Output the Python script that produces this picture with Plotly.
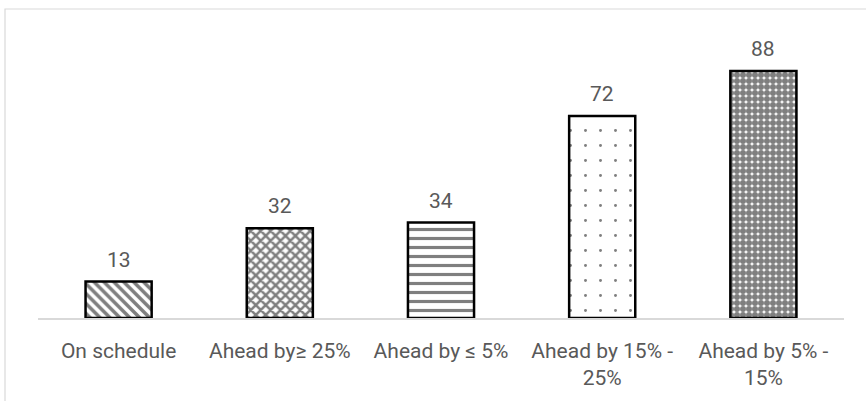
import plotly.graph_objects as go

categories = ["On schedule", "Ahead by≥ 25%", "Ahead by ≤ 5%", "Ahead by 15% -<br>25%", "Ahead by 5% -<br>15%"]
values = [13, 32, 34, 72, 88]
patterns = ["\\", "x", "-", ".", "."]
pattern_sizes = [7, 7, 9, 15, 6]
pattern_solidity = [0.5, 0.6, 0.35, 0.03, 0.78]

FONT = "Roboto, Liberation Sans, sans-serif"
TEXT_COLOR = "#595959"
FONT_SIZE = 21

fig = go.Figure(
    go.Bar(
        x=categories,
        y=values,
        width=0.41,
        marker=dict(
            color="white",
            line=dict(color="black", width=2.5),
            pattern=dict(
                shape=patterns,
                size=pattern_sizes,
                solidity=pattern_solidity,
                fgcolor="black",
                bgcolor="white",
                fillmode="overlay",
            ),
        ),
    )
)

# value labels sitting above each bar
for cat, v in zip(categories, values):
    fig.add_annotation(
        x=cat, y=v, text=str(v), showarrow=False,
        yanchor="bottom", yshift=8,
        font=dict(family=FONT, size=FONT_SIZE, color=TEXT_COLOR),
    )

W, H = 866, 401
L, R, T, B = 38, 22, 18, 83
pw, ph = W - L - R, H - T - B

fig.update_layout(
    width=W,
    height=H,
    margin=dict(l=L, r=R, t=T, b=B),
    paper_bgcolor="white",
    plot_bgcolor="white",
    showlegend=False,
    font=dict(family=FONT, size=FONT_SIZE, color=TEXT_COLOR),
    xaxis=dict(
        showline=True,
        linecolor="#d9d9d9",
        linewidth=1.5,
        ticks="",
        showgrid=False,
        ticklabelstandoff=13,
        tickfont=dict(family=FONT, size=FONT_SIZE, color=TEXT_COLOR),
    ),
    yaxis=dict(range=[0, 106.9], visible=False, showgrid=False),
    shapes=[
        # light chart-area frame (left and top edges visible)
        dict(
            type="rect", xref="paper", yref="paper",
            x0=(5 - L) / pw, x1=(880 - L) / pw,
            y0=-(420 - T - ph) / ph, y1=1 + (T - 9) / ph,
            line=dict(color="#d9d9d9", width=1.2),
            fillcolor="rgba(0,0,0,0)",
            layer="below",
        )
    ],
)

fig.write_html("out.html")
